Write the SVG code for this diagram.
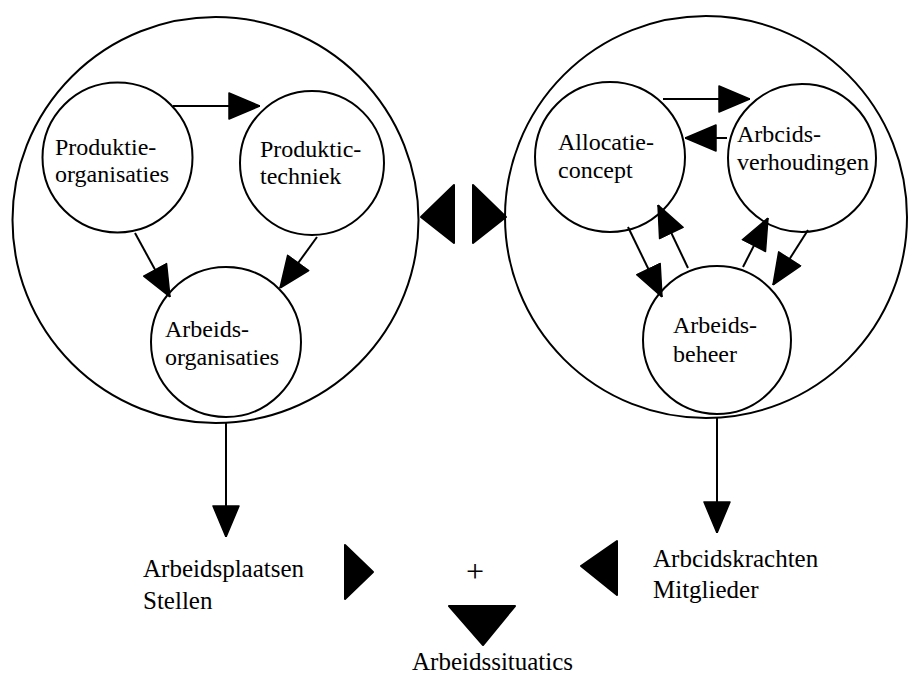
<svg xmlns="http://www.w3.org/2000/svg" width="908" height="683" viewBox="0 0 908 683">
<style>
.c{fill:#fff;stroke:#000;stroke-width:2}
.big{fill:none;stroke:#000;stroke-width:2}
.l{stroke:#000;stroke-width:2;fill:none;marker-end:url(#ah)}
.t{font-family:"Liberation Serif","Times New Roman",serif;font-size:24px;fill:#000}
.b{font-family:"Liberation Serif","Times New Roman",serif;font-size:25px;fill:#000}
.tri{fill:#000;stroke:#000;stroke-width:2;stroke-linejoin:round}
</style>
<defs>
<marker id="ah" markerUnits="userSpaceOnUse" viewBox="0 0 32 28" refX="32" refY="14" markerWidth="32" markerHeight="28" orient="auto">
<path d="M1,1 L32,14 L1,27 z" fill="#000" stroke="#000" stroke-width="1.5" stroke-linejoin="round"/>
</marker>
</defs>
<rect width="908" height="683" fill="#fff"/>
<g id="left-group"><circle class="big" cx="215.5" cy="220" r="203"/></g>
<g id="right-group"><circle class="big" cx="706" cy="217" r="201"/></g>
<g id="produktie-organisaties"><circle class="c" cx="117.5" cy="157.5" r="75"/>
<text class="t" x="55" y="155">Produktie-</text><text class="t" x="55" y="182">organisaties</text></g>
<g id="produktie-techniek"><circle class="c" cx="312" cy="163" r="72"/>
<text class="t" x="260" y="157">Produktic-</text><text class="t" x="260" y="184">techniek</text></g>
<g id="arbeids-organisaties"><circle class="c" cx="226" cy="342" r="75"/>
<text class="t" x="165" y="337">Arbeids-</text><text class="t" x="165" y="365">organisaties</text></g>
<g id="allocatie-concept"><circle class="c" cx="610" cy="157" r="75"/>
<text class="t" x="558" y="150">Allocatie-</text><text class="t" x="558" y="178">concept</text></g>
<g id="arbeids-verhoudingen"><circle class="c" cx="802" cy="158" r="74"/>
<text class="t" x="737" y="142">Arbcids-</text><text class="t" x="737" y="170">verhoudingen</text></g>
<g id="arbeids-beheer"><circle class="c" cx="717" cy="340" r="74"/>
<text class="t" x="673" y="333">Arbeids-</text><text class="t" x="673" y="362">beheer</text></g>
<g id="connectors">
<line class="l" x1="173" y1="106" x2="260" y2="106"/>
<line class="l" x1="135" y1="233" x2="170" y2="297"/>
<line class="l" x1="317" y1="237" x2="280" y2="288"/>
<line class="l" x1="663" y1="99" x2="750" y2="99"/>
<line class="l" x1="727" y1="138" x2="685" y2="138"/>
<line class="l" x1="628" y1="227" x2="662" y2="297"/>
<line class="l" x1="688" y1="268" x2="658" y2="205"/>
<line class="l" x1="743" y1="267" x2="768" y2="218"/>
<line class="l" x1="808" y1="230" x2="773" y2="285"/>
<line class="l" x1="226" y1="423" x2="226" y2="537"/>
<line class="l" x1="717" y1="418" x2="717" y2="533"/>
</g>
<g id="exchange">
<polygon class="tri" points="421,217 454,185 454,243"/>
<polygon class="tri" points="506,217 473,185 473,243"/>
</g>
<g id="arbeidsplaatsen"><text class="b" x="143" y="577">Arbeidsplaatsen</text><text class="b" x="143" y="609">Stellen</text></g>
<g id="arbeidskrachten"><text class="b" x="653" y="567">Arbcidskrachten</text><text class="b" x="653" y="598">Mitglieder</text></g>
<g id="combine">
<polygon class="tri" points="373,572 345,545 345,599"/>
<polygon class="tri" points="581,566 617,541 617,595"/>
<text class="b" x="475" y="582" text-anchor="middle" style="font-size:32px">+</text>
<polygon class="tri" points="449,606 515,606 483,645"/>
</g>
<g id="arbeidssituaties"><text class="b" x="412" y="670">Arbeidssituatics</text></g>
</svg>
